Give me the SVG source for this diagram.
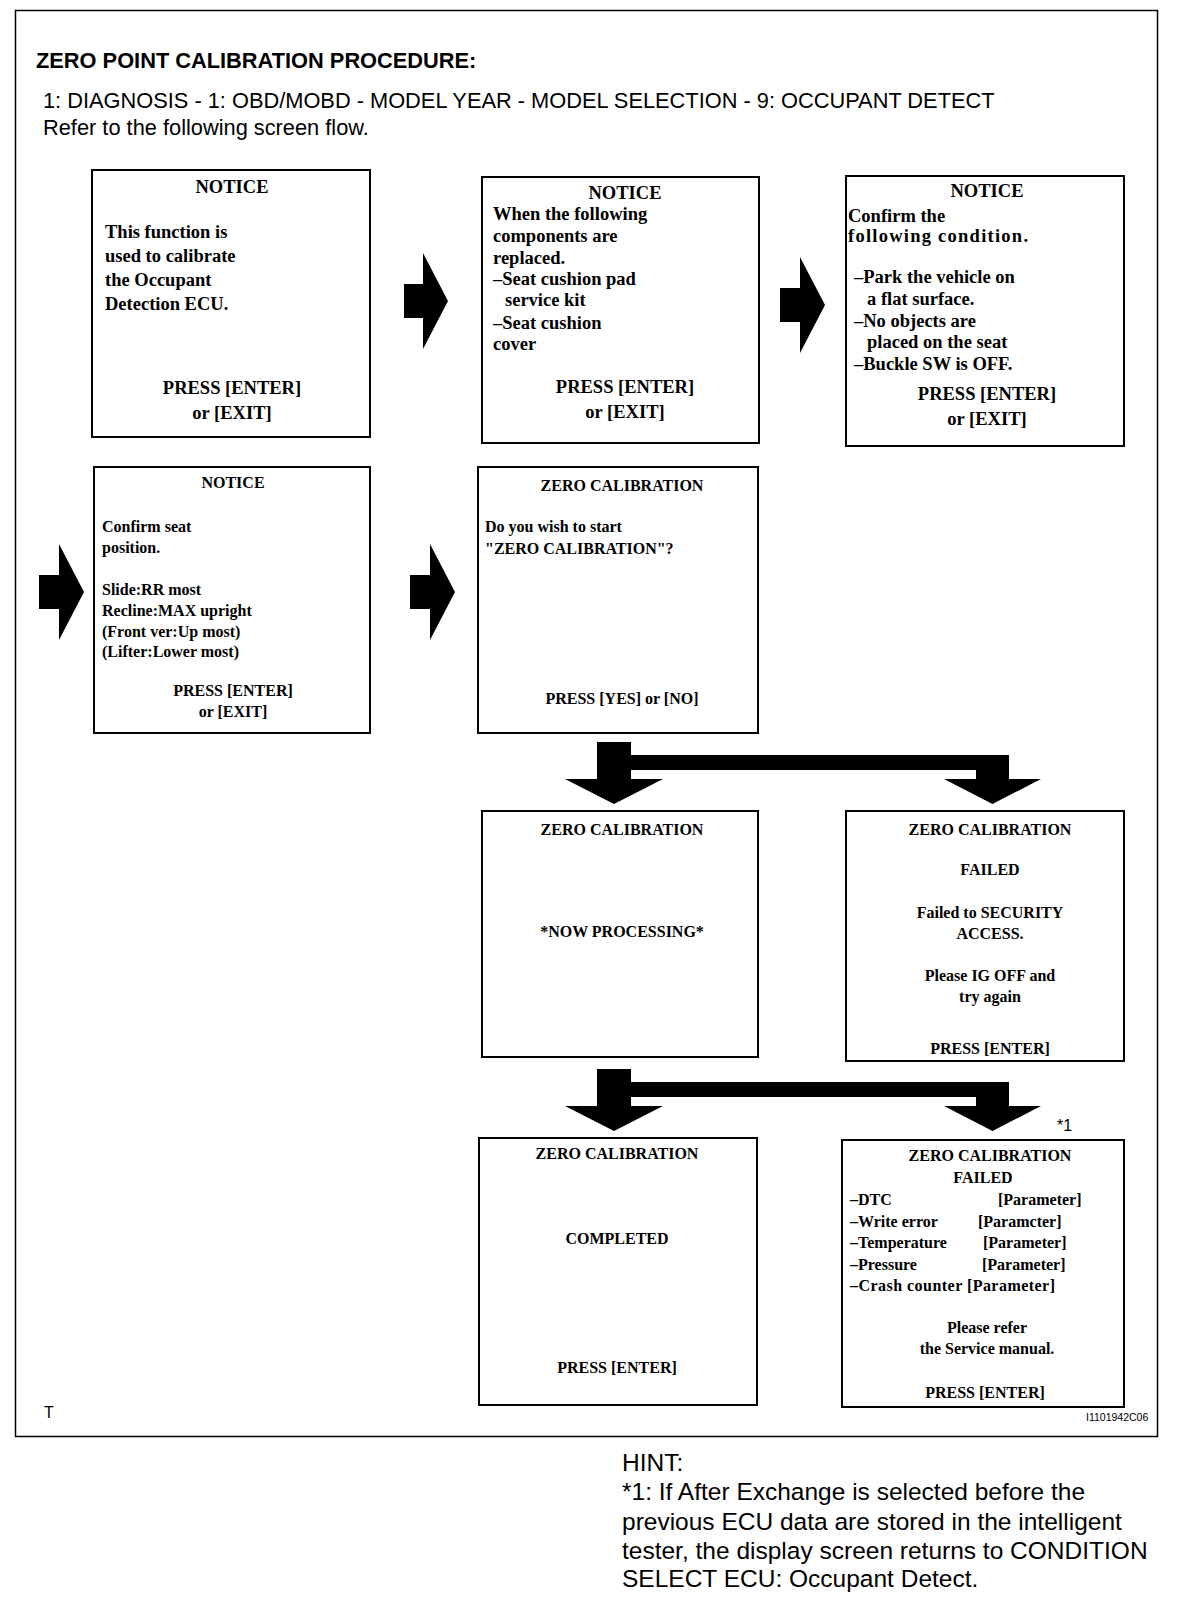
<svg xmlns="http://www.w3.org/2000/svg" width="1184" height="1600" viewBox="0 0 1184 1600">
<style>
.frame{fill:none;stroke:#000;stroke-width:1.5}
.box{fill:#fff;stroke:#000;stroke-width:2}
.t{font-family:"Liberation Serif","Times New Roman",serif;font-weight:bold;font-size:18.5px;fill:#000}
.s{font-size:16px}
.c{text-anchor:middle}
.sans{font-family:"Liberation Sans",Arial,sans-serif;fill:#000}
.arr{fill:#000}
</style>
<rect x="0" y="0" width="1184" height="1600" fill="#fff"/>
<rect class="frame" x="15.5" y="10.5" width="1142" height="1426"/>
<g id="header">
<text class="sans" x="36" y="68" font-size="21.8" font-weight="bold">ZERO POINT CALIBRATION PROCEDURE:</text>
<text class="sans" x="43" y="108" font-size="21.8">1: DIAGNOSIS - 1: OBD/MOBD - MODEL YEAR - MODEL SELECTION - 9: OCCUPANT DETECT</text>
<text class="sans" x="43" y="135" font-size="21.8">Refer to the following screen flow.</text>
</g>
<g id="connectors">
<path class="arr" d="M404 284H423V253L448 301L423 349V318H404Z"/>
<path class="arr" d="M780 288H800V257L825 305L800 353V322H780Z"/>
<path class="arr" d="M39 575H59V544L84 592L59 640V609H39Z"/>
<path class="arr" d="M410 575H430V544L455 592L430 640V609H410Z"/>
<path class="arr" d="M597 742H631V755H1009V779H1041L992.5 804L944 779H976V770H631V779H663L614 804L565 779H597Z"/>
<path class="arr" d="M597 1069H631V1082H1009V1106H1041L992.5 1131L944 1106H976V1097H631V1106H663L614 1131L565 1106H597Z"/>
</g>
<g id="n1">
<rect class="box" x="92" y="170" width="278" height="267"/>
<text class="t c" x="232" y="193">NOTICE</text>
<text class="t" x="105" y="238">This function is</text>
<text class="t" x="105" y="262">used to calibrate</text>
<text class="t" x="105" y="286">the Occupant</text>
<text class="t" x="105" y="310">Detection ECU.</text>
<text class="t c" x="232" y="394">PRESS [ENTER]</text>
<text class="t c" x="232" y="419">or [EXIT]</text>
</g>
<g id="n2">
<rect class="box" x="482" y="177" width="277" height="266"/>
<text class="t c" x="625" y="199">NOTICE</text>
<text class="t" x="493" y="220">When the following</text>
<text class="t" x="493" y="242">components are</text>
<text class="t" x="493" y="264">replaced.</text>
<text class="t" x="493" y="285">–Seat cushion pad</text>
<text class="t" x="505" y="306">service kit</text>
<text class="t" x="493" y="329">–Seat cushion</text>
<text class="t" x="493" y="350">cover</text>
<text class="t c" x="625" y="393">PRESS [ENTER]</text>
<text class="t c" x="625" y="418">or [EXIT]</text>
</g>
<g id="n3">
<rect class="box" x="846" y="176" width="278" height="270"/>
<text class="t c" x="987" y="197">NOTICE</text>
<text class="t" x="848" y="222">Confirm the</text>
<text class="t" x="848" y="242" textLength="180" lengthAdjust="spacing">following condition.</text>
<text class="t" x="854" y="283">–Park the vehicle on</text>
<text class="t" x="867" y="305">a flat surface.</text>
<text class="t" x="854" y="327">–No objects are</text>
<text class="t" x="867" y="348">placed on the seat</text>
<text class="t" x="854" y="370">–Buckle SW is OFF.</text>
<text class="t c" x="987" y="400">PRESS [ENTER]</text>
<text class="t c" x="987" y="425">or [EXIT]</text>
</g>
<g id="n4">
<rect class="box" x="94" y="467" width="276" height="266"/>
<text class="t s c" x="233" y="488">NOTICE</text>
<text class="t s" x="102" y="532">Confirm seat</text>
<text class="t s" x="102" y="553">position.</text>
<text class="t s" x="102" y="595">Slide:RR most</text>
<text class="t s" x="102" y="616">Recline:MAX upright</text>
<text class="t s" x="102" y="637">(Front ver:Up most)</text>
<text class="t s" x="102" y="657">(Lifter:Lower most)</text>
<text class="t s c" x="233" y="696">PRESS [ENTER]</text>
<text class="t s c" x="233" y="717">or [EXIT]</text>
</g>
<g id="n5">
<rect class="box" x="478" y="467" width="280" height="266"/>
<text class="t s c" x="622" y="491">ZERO CALIBRATION</text>
<text class="t s" x="485" y="532">Do you wish to start</text>
<text class="t s" x="485" y="554">"ZERO CALIBRATION"?</text>
<text class="t s c" x="622" y="704">PRESS [YES] or [NO]</text>
</g>
<g id="n6">
<rect class="box" x="482" y="811" width="276" height="246"/>
<text class="t s c" x="622" y="835">ZERO CALIBRATION</text>
<text class="t s c" x="622" y="937">*NOW PROCESSING*</text>
</g>
<g id="n7">
<rect class="box" x="846" y="811" width="278" height="250"/>
<text class="t s c" x="990" y="835">ZERO CALIBRATION</text>
<text class="t s c" x="990" y="875">FAILED</text>
<text class="t s c" x="990" y="918">Failed to SECURITY</text>
<text class="t s c" x="990" y="939">ACCESS.</text>
<text class="t s c" x="990" y="981">Please IG OFF and</text>
<text class="t s c" x="990" y="1002">try again</text>
<text class="t s c" x="990" y="1054">PRESS [ENTER]</text>
</g>
<g id="n8">
<rect class="box" x="479" y="1138" width="278" height="267"/>
<text class="t s c" x="617" y="1159">ZERO CALIBRATION</text>
<text class="t s c" x="617" y="1244">COMPLETED</text>
<text class="t s c" x="617" y="1373">PRESS [ENTER]</text>
</g>
<g id="n9">
<rect class="box" x="842" y="1140" width="282" height="267"/>
<text class="t s c" x="990" y="1161">ZERO CALIBRATION</text>
<text class="t s c" x="983" y="1183">FAILED</text>
<text class="t s" x="850" y="1205">–DTC</text>
<text class="t s" x="998" y="1205">[Parameter]</text>
<text class="t s" x="850" y="1227">–Write error</text>
<text class="t s" x="978" y="1227">[Paramcter]</text>
<text class="t s" x="850" y="1248">–Temperature</text>
<text class="t s" x="983" y="1248">[Parameter]</text>
<text class="t s" x="850" y="1270">–Pressure</text>
<text class="t s" x="982" y="1270">[Parameter]</text>
<text class="t s" x="850" y="1291" textLength="205" lengthAdjust="spacing">–Crash counter [Parameter]</text>
<text class="t s c" x="987" y="1333">Please refer</text>
<text class="t s c" x="987" y="1354">the Service manual.</text>
<text class="t s c" x="985" y="1398">PRESS [ENTER]</text>
</g>
<g id="notes">
<text class="sans" x="1057" y="1131" font-size="16">*1</text>
<text class="sans" x="44" y="1418" font-size="16">T</text>
<text class="sans" x="1086" y="1421" font-size="10.5" fill="#333">I1101942C06</text>
<text class="sans" x="622" y="1471" font-size="24.5">HINT:</text>
<text class="sans" x="622" y="1500" font-size="24.5">*1: If After Exchange is selected before the</text>
<text class="sans" x="622" y="1530" font-size="24.5">previous ECU data are stored in the intelligent</text>
<text class="sans" x="622" y="1559" font-size="24.5">tester, the display screen returns to CONDITION</text>
<text class="sans" x="622" y="1587" font-size="24.5">SELECT ECU: Occupant Detect.</text>
</g>
</svg>
